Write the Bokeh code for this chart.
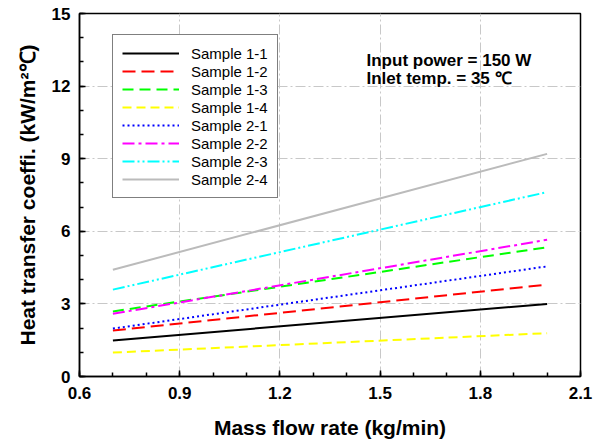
from bokeh.plotting import figure
from bokeh.models import Legend, LegendItem, Label, Range1d, FixedTicker
from bokeh.embed import file_html
from bokeh.resources import INLINE

# ---- data ----
x_flow = [0.7, 2.0]
sample_names = ["Sample 1-1", "Sample 1-2", "Sample 1-3", "Sample 1-4",
                "Sample 2-1", "Sample 2-2", "Sample 2-3", "Sample 2-4"]
s1_1 = [1.49, 3.00]
s1_2 = [1.90, 3.80]
s1_3 = [2.69, 5.34]
s1_4 = [0.99, 1.79]
s2_1 = [1.98, 4.55]
s2_2 = [2.59, 5.65]
s2_3 = [3.59, 7.62]
s2_4 = [4.41, 9.20]
series = [s1_1, s1_2, s1_3, s1_4, s2_1, s2_2, s2_3, s2_4]
x_ticks = [0.6, 0.9, 1.2, 1.5, 1.8, 2.1]
x_minor = [0.6, 0.7, 0.8, 0.9, 1.0, 1.1, 1.2, 1.3, 1.4, 1.5, 1.6, 1.7, 1.8, 1.9, 2.0, 2.1]
y_ticks = [0, 3, 6, 9, 12, 15]
y_minor = list(range(0, 16))

# ---- styles ----
colors = ["#000000", "#ff0000", "#00ff00", "#ffff00",
          "#0000ff", "#ff00ff", "#00ffff", "#bbbbbb"]
dashes = ["solid", "13 6", "11 6", "9 5", "2 3", "12 4 3 4", "12 3 2 3 2 3", "solid"]

FONT = "Liberation Sans"

p = figure(width=601, height=447, output_backend="svg", toolbar_location=None,
           x_range=Range1d(0.6, 2.1), y_range=Range1d(0, 15),
           min_border_left=79, min_border_right=21, min_border_top=13, min_border_bottom=71)

p.background_fill_color = "white"
p.border_fill_color = "white"
p.outline_line_color = "black"
p.outline_line_width = 1.5
p.outline_line_alpha = 1.0

p.xaxis.ticker = FixedTicker(ticks=x_ticks, minor_ticks=x_minor)
p.yaxis.ticker = FixedTicker(ticks=y_ticks, minor_ticks=y_minor)

for ax in (p.xaxis[0], p.yaxis[0]):
    ax.axis_line_color = "black"
    ax.axis_line_width = 1.5
    ax.major_tick_in = 6
    ax.major_tick_out = 0
    ax.minor_tick_in = 4
    ax.minor_tick_out = 0
    ax.major_tick_line_width = 1.5
    ax.minor_tick_line_width = 1.5
    ax.major_tick_line_color = "black"
    ax.minor_tick_line_color = "black"
    ax.major_label_text_font = FONT
    ax.major_label_text_font_style = "bold"
    ax.major_label_text_font_size = "17px"
    ax.major_label_text_color = "black"
    ax.axis_label_text_font = FONT
    ax.axis_label_text_font_style = "bold"
    ax.axis_label_text_font_size = "21px"
    ax.axis_label_text_color = "black"

p.xaxis.axis_label = "Mass flow rate (kg/min)"
p.yaxis.axis_label = "Heat transfer coeffi. (kW/m\u00b2\u2103)"
p.xaxis.major_label_standoff = 10
p.xaxis.axis_label_standoff = 14
p.yaxis.major_label_standoff = 9
p.yaxis.axis_label_standoff = 10

for g in (p.xgrid[0], p.ygrid[0]):
    g.grid_line_color = "#c8c8c8"
    g.grid_line_width = 1
    g.grid_line_dash = "10 3 2 3"

items = []
for name, ys, c, d in zip(sample_names, series, colors, dashes):
    r = p.line(x_flow, ys, line_color=c, line_width=2, line_dash=d)
    items.append(LegendItem(label=name, renderers=[r]))

legend = Legend(items=items, location=(33, 178))
legend.border_line_color = "black"
legend.border_line_width = 1
legend.background_fill_color = "white"
legend.background_fill_alpha = 1
legend.padding = 9
legend.spacing = 0
legend.margin = 0
legend.glyph_width = 57
legend.glyph_height = 18
legend.label_height = 18
legend.label_standoff = 12
legend.label_text_font = FONT
legend.label_text_font_size = "15px"
legend.label_text_color = "black"
p.add_layout(legend)

for txt, yy in [("Input power = 150 W", 316), ("Inlet temp. = 35 \u2103", 298)]:
    p.add_layout(Label(x=287, y=yy, x_units="screen", y_units="screen", text=txt,
                       text_font=FONT, text_font_style="bold", text_font_size="17px",
                       text_color="black", text_baseline="alphabetic"))

open("out.html", "w").write(file_html(p, INLINE))
